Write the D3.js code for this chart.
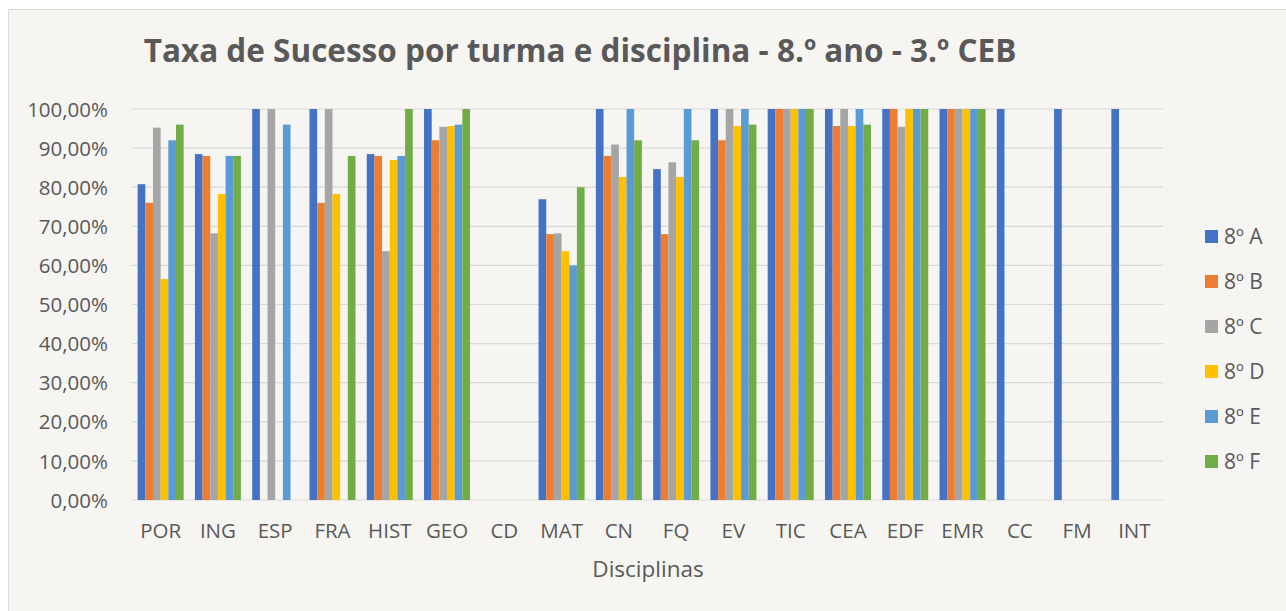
<!DOCTYPE html>
<html><head><meta charset="utf-8">
<script src="https://cdn.jsdelivr.net/npm/d3@7"></script>
<style>
html,body{margin:0;padding:0;background:#fff;}
text{font-family:"Open Sans","Liberation Sans",sans-serif;fill:#595959;}
</style></head>
<body>
<svg id="chart" width="1286" height="611"></svg>
<script>
const categories = ["POR","ING","ESP","FRA","HIST","GEO","CD","MAT","CN","FQ","EV","TIC","CEA","EDF","EMR","CC","FM","INT"];
const seriesNames = ["8º A","8º B","8º C","8º D","8º E","8º F"];
const s8A = [80.77,88.46,100,100,88.46,100,null,76.92,100,84.62,100,100,100,100,100,100,100,100];
const s8B = [76,88,null,76,88,92,null,68,88,68,92,100,95.65,100,100,null,null,null];
const s8C = [95.24,68.18,100,100,63.64,95.45,null,68.18,90.91,86.36,100,100,100,95.45,100,null,null,null];
const s8D = [56.52,78.26,null,78.26,86.96,95.65,null,63.64,82.61,82.61,95.65,100,95.65,100,100,null,null,null];
const s8E = [92,88,96,null,88,96,null,60,100,100,100,100,100,100,100,null,null,null];
const s8F = [96,88,null,88,100,100,null,80,92,92,96,100,96,100,100,null,null,null];
const seriesValues = [s8A,s8B,s8C,s8D,s8E,s8F];
const colors = ["#4472C4","#ED7D31","#A5A5A5","#FFC000","#5B9BD5","#70AD47"];
const yTicks = [0,10,20,30,40,50,60,70,80,90,100];
const title = "Taxa de Sucesso por turma e disciplina - 8.º ano - 3.º CEB";
const xTitle = "Disciplinas";

(function(){
const svg = d3.select("#chart");
svg.append("rect").attr("x",8.5).attr("y",9.5).attr("width",1290).attr("height",610)
  .attr("fill","#F7F5F2").attr("stroke","#D9D9D9").attr("stroke-width",1);

const pL=132, pR=1163, pT=109, pB=500;
const x0 = d3.scaleBand().domain(categories).range([pL,pR]).paddingInner(0.197).paddingOuter(0.0985);
const x1 = d3.scaleBand().domain(seriesNames).range([0,x0.bandwidth()]);
const y = d3.scaleLinear().domain([0,100]).range([pB,pT]);

svg.append("g").selectAll("line").data(yTicks).join("line")
  .attr("x1",pL).attr("x2",pR).attr("y1",d=>y(d)).attr("y2",d=>y(d))
  .attr("stroke","#D9D9D9").attr("stroke-width",1.2);

seriesNames.forEach((s,i)=>{
  svg.append("g").selectAll("rect").data(categories.map((c,j)=>({c,v:seriesValues[i][j]})).filter(d=>d.v!=null))
    .join("rect")
    .attr("x",d=>x0(d.c)+x1(s)).attr("width",x1.bandwidth())
    .attr("y",d=>y(d.v)).attr("height",d=>y(0)-y(d.v))
    .attr("fill",colors[i]);
});

const fmt = d=> d3.format(".2f")(d).replace(".",",")+"%";
const yAxis = d3.axisLeft(y).tickValues(yTicks).tickFormat(fmt).tickSize(0).tickPadding(0);
const gy = svg.append("g").attr("transform",`translate(108,0)`).call(yAxis);
gy.select(".domain").remove();
gy.selectAll("text").attr("font-size",20.5).attr("fill","#595959").attr("font-family","Open Sans").attr("dy","0.35em");

const xAxis = d3.axisBottom(x0).tickSize(0).tickPadding(0);
const gx = svg.append("g").attr("transform",`translate(0,${pB})`).call(xAxis);
gx.select(".domain").remove();
gx.selectAll("text").attr("font-size",20.5).attr("fill","#595959").attr("font-family","Open Sans").attr("dy",0).attr("y",38);

svg.append("text").attr("x",648).attr("y",577).attr("text-anchor","middle")
  .attr("font-size",22.5).text(xTitle);

svg.append("text").attr("x",580).attr("y",62).attr("text-anchor","middle")
  .attr("font-size",31.5).attr("font-weight","bold").text(title);

const lg = svg.append("g");
seriesNames.forEach((s,i)=>{
  const cy = 236.5 + i*45;
  lg.append("rect").attr("x",1205).attr("y",cy-6.5).attr("width",13).attr("height",13).attr("fill",colors[i]);
  lg.append("text").attr("x",1224).attr("y",cy).attr("dy","0.35em").attr("font-size",21).text(s);
});
})();
</script>
</body></html>
